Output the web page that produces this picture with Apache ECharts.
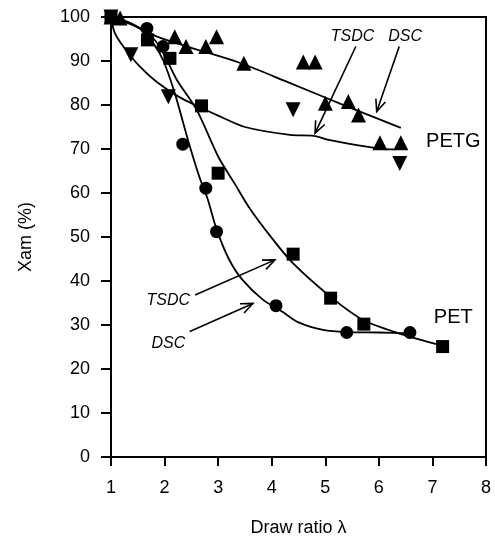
<!DOCTYPE html>
<html>
<head>
<meta charset="utf-8">
<script src="https://cdn.jsdelivr.net/npm/echarts@6/dist/echarts.min.js"></script>
<style>
  html, body { margin: 0; padding: 0; background: #fff; }
  #main { width: 495px; height: 544px; }
</style>
</head>
<body>
<div id="main"></div>
<script>
// tick labels
var xTicks = [1, 2, 3, 4, 5, 6, 7, 8];
var yTicks = [0, 10, 20, 30, 40, 50, 60, 70, 80, 90, 100];

// measured points [draw ratio, Xam %]
var petDsc = [[1, 100], [1.67, 97.4], [1.97, 93.3], [2.34, 71.1], [2.77, 61.1], [2.97, 51.2], [4.08, 34.4], [5.40, 28.3], [6.58, 28.3]];
var petTsdc = [[1, 100], [1.68, 94.8], [2.10, 90.6], [2.69, 79.8], [3.0, 64.5], [4.40, 46.1], [5.10, 36.1], [5.72, 30.2], [7.19, 25.1]];
var petgDsc = [[1, 100], [1.17, 99.8], [2.19, 95.5], [2.40, 93.3], [2.77, 93.3], [2.97, 95.5], [3.48, 89.5], [4.59, 89.8], [4.81, 89.8], [5.0, 80.4], [5.43, 80.8], [5.62, 77.7], [6.02, 71.4], [6.41, 71.4]];
var petgTsdc = [[1, 100], [1.37, 91.4], [2.07, 81.9], [4.40, 78.9], [6.39, 66.7]];

// fitted curves
var petDscFit = [[1, 100], [1.23, 99.3], [1.54, 97.4], [1.79, 94.0], [1.98, 90.0], [2.2, 82.3], [2.45, 71.5], [2.66, 63.3], [2.8, 58.8], [2.97, 51.8], [3.2, 45.0], [3.45, 40.3], [3.84, 35.7], [4.2, 33.0], [4.5, 30.6], [4.96, 28.9], [5.4, 28.4], [6.0, 28.3], [6.58, 28.1]];
var petTsdcFit = [[1, 100], [1.5, 97.6], [1.8, 95.0], [2.01, 91.0], [2.23, 85.7], [2.6, 78.9], [3.0, 68.3], [3.3, 62.3], [3.6, 56.3], [4.0, 49.8], [4.4, 44.0], [5.1, 36.4], [5.7, 31.2], [6.4, 28.0], [7.19, 25.3]];
var petgDscFit = [[1, 100], [1.35, 98.6], [1.85, 95.6], [2.5, 93.0], [3.4, 89.6], [4.3, 85.2], [5.4, 79.7], [6.41, 74.8]];
var petgTsdcFit = [[1, 100], [1.07, 96.4], [1.23, 93.3], [1.54, 88.7], [1.85, 85.3], [2.26, 81.9], [2.66, 79.5], [3.0, 77.6], [3.5, 75.0], [4.34, 73.2], [4.78, 73.0], [5.09, 72.0], [5.59, 70.9], [6.21, 69.9], [6.39, 70.1]];

// annotations: text and arrows (start -> tip), in data units
var labels = [
  {text: 'TSDC', at: [5.51, 95.5], italic: true},
  {text: 'DSC', at: [6.49, 95.5], italic: true},
  {text: 'TSDC', at: [2.07, 35.5], italic: true},
  {text: 'DSC', at: [2.07, 25.8], italic: true},
  {text: 'PETG', at: [7.39, 71.6], italic: false},
  {text: 'PET', at: [7.39, 31.6], italic: false}
];
var arrows = [
  [[5.57, 93.3], [4.81, 73.6]],
  [[6.38, 93.3], [5.96, 78.5]],
  [[2.57, 36.8], [4.06, 44.8]],
  [[2.47, 28.5], [3.65, 34.9]]
];

var font = 'Liberation Sans, Arial, sans-serif';

function scatter(data, symbol, size, rotate) {
  return {
    type: 'scatter', data: data, symbol: symbol, symbolSize: size,
    symbolRotate: rotate || 0, itemStyle: {color: '#000', opacity: 1}, z: 3
  };
}
function curve(data) {
  return {
    type: 'line', data: data, smooth: 0.3, showSymbol: false,
    lineStyle: {color: '#000', width: 1.8}, z: 2
  };
}

var option = {
  animation: false,
  grid: {left: 111, right: 9, top: 17, bottom: 87, show: true, borderColor: '#000', borderWidth: 2},
  xAxis: {
    type: 'value', min: xTicks[0], max: xTicks[xTicks.length - 1], interval: 1,
    name: 'Draw ratio λ', nameLocation: 'middle', nameGap: 62,
    nameTextStyle: {color: '#000', fontSize: 18, fontFamily: font},
    axisLine: {lineStyle: {color: '#000', width: 2}},
    axisTick: {inside: false, length: 9, lineStyle: {color: '#000', width: 2}},
    axisLabel: {color: '#000', fontSize: 18, fontFamily: font, margin: 22},
    splitLine: {show: false}
  },
  yAxis: {
    type: 'value', min: yTicks[0], max: yTicks[yTicks.length - 1], interval: 10,
    name: 'Xam (%)', nameLocation: 'middle', nameGap: 76,
    nameTextStyle: {color: '#000', fontSize: 18, fontFamily: font},
    axisLine: {lineStyle: {color: '#000', width: 2}},
    axisTick: {inside: false, length: 10, lineStyle: {color: '#000', width: 2}},
    axisLabel: {color: '#000', fontSize: 18, fontFamily: font, margin: 21},
    splitLine: {show: false}
  },
  series: [
    curve(petDscFit), curve(petTsdcFit), curve(petgDscFit), curve(petgTsdcFit),
    scatter(petDsc, 'circle', 13),
    scatter(petTsdc, 'rect', 13),
    scatter(petgDsc, 'triangle', 15),
    scatter(petgTsdc, 'triangle', 15, 180)
  ]
};

var chartDom = document.getElementById('main');
var myChart = echarts.init(chartDom);
myChart.setOption(option);

// annotations placed through the grid's own scale
var graphics = [];
labels.forEach(function (l) {
  var p = myChart.convertToPixel({gridIndex: 0}, l.at);
  graphics.push({
    type: 'text', x: p[0], y: p[1], z: 10,
    style: {
      text: l.text, fill: '#000', align: 'center', verticalAlign: 'middle',
      font: (l.italic ? 'italic 16px ' : '20px ') + font
    }
  });
});
arrows.forEach(function (a) {
  var s = myChart.convertToPixel({gridIndex: 0}, a[0]);
  var t = myChart.convertToPixel({gridIndex: 0}, a[1]);
  var ang = Math.atan2(s[1] - t[1], s[0] - t[0]);
  var len = 13, spread = 0.4;
  graphics.push({
    type: 'polyline', z: 10,
    shape: {points: [s, t]},
    style: {stroke: '#000', lineWidth: 1.6, fill: null}
  });
  graphics.push({
    type: 'polyline', z: 10,
    shape: {points: [
      [t[0] + len * Math.cos(ang + spread), t[1] + len * Math.sin(ang + spread)],
      t,
      [t[0] + len * Math.cos(ang - spread), t[1] + len * Math.sin(ang - spread)]
    ]},
    style: {stroke: '#000', lineWidth: 1.6, fill: null}
  });
});
myChart.setOption({graphic: graphics});
</script>
</body>
</html>
